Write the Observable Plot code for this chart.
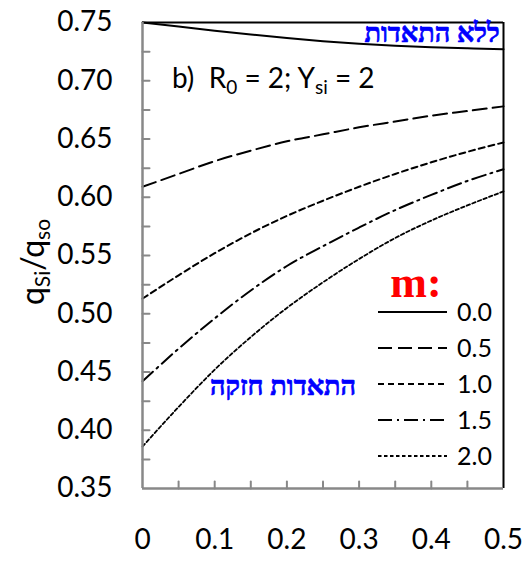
<!DOCTYPE html>
<html><head><meta charset="utf-8">
<script src="https://cdn.jsdelivr.net/npm/d3@7"></script>
<script src="https://cdn.jsdelivr.net/npm/@observablehq/plot@0.6"></script>
<style>body{margin:0;background:#fff;}</style>
</head><body><div id="chart"></div>
<script>
// x values (fraction)
const xs = [0, 0.05, 0.1, 0.15, 0.2, 0.25, 0.3, 0.35, 0.4, 0.45, 0.5];
// q_Si/q_so for each m
const m00 = [0.750, 0.7465, 0.7430, 0.7397, 0.7367, 0.7340, 0.7318, 0.7300, 0.7287, 0.7278, 0.7270];
const m05 = [0.609, 0.620, 0.631, 0.640, 0.648, 0.654, 0.660, 0.665, 0.670, 0.674, 0.678];
const m10 = [0.513, 0.533, 0.552, 0.569, 0.584, 0.597, 0.609, 0.620, 0.630, 0.639, 0.647];
const m15 = [0.442, 0.470, 0.496, 0.520, 0.541, 0.558, 0.574, 0.589, 0.602, 0.614, 0.624];
const m20 = [0.386, 0.420, 0.452, 0.480, 0.505, 0.527, 0.547, 0.565, 0.580, 0.593, 0.605];
const mLabels = ["0.0", "0.5", "1.0", "1.5", "2.0"];
const xTicks = [0, 0.1, 0.2, 0.3, 0.4, 0.5];
const yTicks = [0.35, 0.40, 0.45, 0.50, 0.55, 0.60, 0.65, 0.70, 0.75];
const xMinor = [0.05, 0.1, 0.15, 0.2, 0.25, 0.3, 0.35, 0.4, 0.45];
const yMinor = [0.375, 0.4, 0.425, 0.45, 0.475, 0.5, 0.525, 0.55, 0.575, 0.6, 0.625, 0.65, 0.675, 0.7, 0.725];

const seriesVals = [m00, m05, m10, m15, m20];
const dashStyles = ["none", "14,6", "6,4", "14,5,2,5", "3.5,2.5"];
const widths = [2, 2, 2, 2, 1.8];

const rows = seriesVals.flatMap((arr, k) => arr.map((v, i) => ({m: mLabels[k], x: xs[i], y: v})));

const tickUp = {draw(ctx, l) { ctx.moveTo(0, 0); ctx.lineTo(0, -l); }};

const W = 526, H = 561;
const plot = Plot.plot({
  width: W, height: H,
  marginLeft: 142, marginRight: 23, marginTop: 22, marginBottom: 73,
  style: {fontFamily: "Lato, sans-serif", fontSize: "28px", background: "#fff", color: "#000", overflow: "visible"},
  x: {domain: [0, 0.5]},
  y: {domain: [0.35, 0.75]},
  marks: [
    Plot.axisX({ticks: xTicks, tickSize: 0, tickPadding: 41, label: null,
      tickFormat: d => d === 0 ? "0" : d3.format(".1f")(d), fill: "#000"}),
    Plot.axisY({ticks: yTicks, tickSize: 0, tickPadding: 30, label: null,
      tickFormat: d3.format(".2f"), fill: "#000"}),
    Plot.vector(xMinor, {x: d => d, frameAnchor: "bottom", length: 7, anchor: "start", shape: tickUp, stroke: "#888", strokeWidth: 2}),
    Plot.vector(yMinor, {y: d => d, frameAnchor: "left", rotate: 90, length: 7, anchor: "start", shape: tickUp, stroke: "#888", strokeWidth: 2}),
    ...mLabels.map((lab, k) => Plot.line(rows.filter(r => r.m === lab), {
      x: "x", y: "y", curve: "monotone-x", stroke: "#000", strokeWidth: widths[k],
      strokeDasharray: dashStyles[k] === "none" ? null : dashStyles[k]
    })),
    Plot.ruleY([0.75], {stroke: "#000", strokeWidth: 2}),
    Plot.ruleX([0.5], {stroke: "#000", strokeWidth: 2}),
    Plot.ruleX([0], {stroke: "#888", strokeWidth: 2.5}),
    Plot.ruleY([0.35], {stroke: "#888", strokeWidth: 2.5})
  ]
});
document.getElementById("chart").appendChild(plot);

const svg = d3.select(plot);

// Y axis label
const yl = svg.append("text")
  .attr("transform", "translate(44,262) rotate(-90)")
  .attr("text-anchor", "middle")
  .style("font-family", "Lato, sans-serif").style("font-size", "32px").attr("fill", "#000");
yl.append("tspan").text("q");
yl.append("tspan").attr("dy", 6).style("font-size", "21px").text("Si");
yl.append("tspan").attr("dy", -6).text("/q");
yl.append("tspan").attr("dy", 6).style("font-size", "21px").text("so");

// panel annotation
const ann = svg.append("text").attr("x", 172).attr("y", 88).attr("text-anchor", "start")
  .style("font-family", "Lato, sans-serif").style("font-size", "28px")
  .attr("fill", "#000");
ann.append("tspan").text("b)\u00a0\u00a0R");
ann.append("tspan").attr("dy", 6).style("font-size", "19px").text("0");
ann.append("tspan").attr("dy", -6).text("\u00a0= 2; Y");
ann.append("tspan").attr("dy", 6).style("font-size", "19px").text("si");
ann.append("tspan").attr("dy", -6).text("\u00a0= 2");

// Hebrew annotations
const heb = (x, y, s) => svg.append("text").attr("x", x).attr("y", y).attr("text-anchor", "middle")
  .style("font-family", "'Liberation Serif', 'DejaVu Serif', serif").style("font-weight", "bold").style("font-size", "27px")
  .attr("fill", "#0000ff").attr("stroke", "#0000ff").attr("stroke-width", 0.7).text(s);
heb(432, 42, "ללא התאדות");
heb(283, 395, "התאדות חזקה");

// legend
svg.append("text").attr("x", 416).attr("y", 297).attr("text-anchor", "middle")
  .style("font-family", "'Liberation Serif', serif").style("font-weight", "bold").style("font-size", "44px")
  .attr("fill", "#ff0000").text("m:");
const legY = [312, 348, 384, 420, 456];
mLabels.forEach((lab, k) => {
  svg.append("line").attr("x1", 378).attr("x2", 447).attr("y1", legY[k]).attr("y2", legY[k])
    .attr("stroke", "#000").attr("stroke-width", widths[k])
    .attr("stroke-dasharray", dashStyles[k] === "none" ? null : dashStyles[k]);
  svg.append("text").attr("x", 457).attr("y", legY[k]).attr("dy", "0.36em").attr("text-anchor", "start")
    .style("font-family", "Lato, sans-serif").style("font-size", "25px").attr("fill", "#000").text(lab);
});
</script>
</body></html>
